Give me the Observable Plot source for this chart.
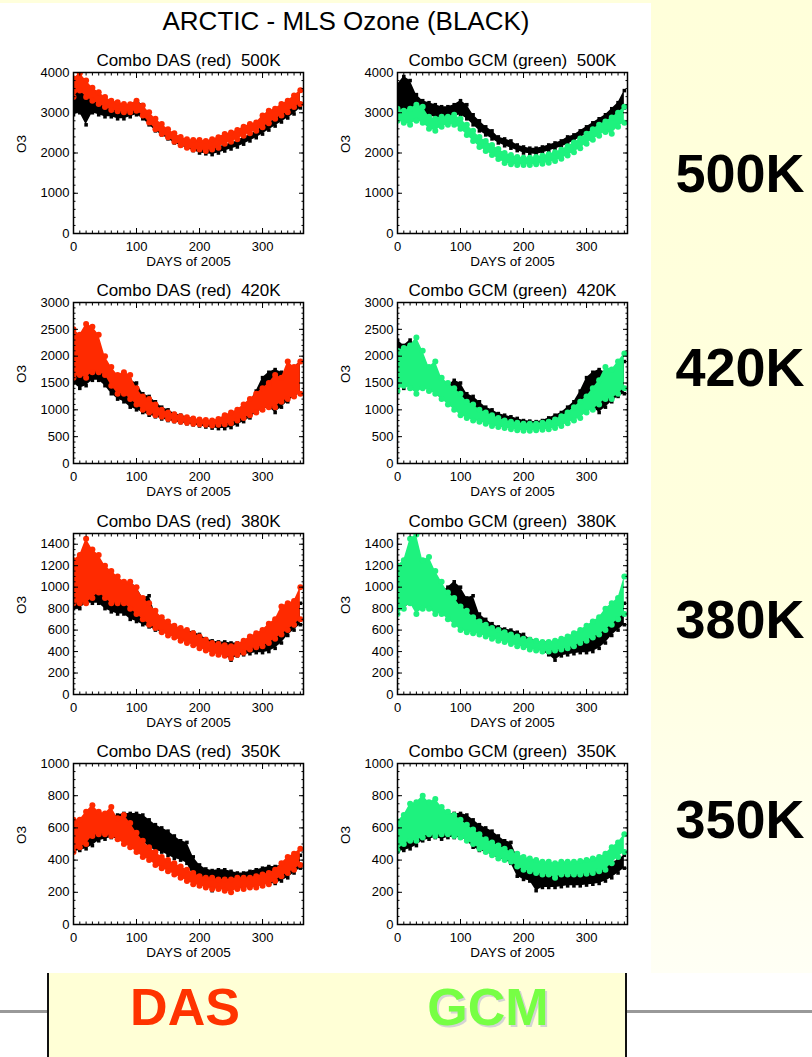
<!DOCTYPE html>
<html><head><meta charset="utf-8">
<script src="https://cdn.jsdelivr.net/npm/d3@7"></script>
<script src="https://cdn.jsdelivr.net/npm/@observablehq/plot@0.6"></script>
<style>
html,body{margin:0;padding:0;background:#fff;}
#page{position:relative;width:812px;height:1057px;overflow:hidden;background:#fff;font-family:"Liberation Sans",Arial,sans-serif;}
.abs{position:absolute;}
.lbl{position:absolute;line-height:1;white-space:pre;}
.pan{position:absolute;width:320px;}
svg text{white-space:pre;}
</style></head><body><div id="page">
<div class="abs" style="left:0;top:0;width:812px;height:3px;background:#FFFFDC"></div>
<div class="abs" style="left:651px;top:0;width:161px;height:973px;background:linear-gradient(#FFFFDA 0%,#FFFFDE 60%,#FFFFF5 100%)"></div>
<div class="abs" style="left:0;top:1010px;width:48px;height:3px;background:#999"></div>
<div class="abs" style="left:626px;top:1010px;width:186px;height:3px;background:#999"></div>
<div class="abs" style="left:47px;top:973px;width:576px;height:84px;background:#FFFFD6;border-left:2px solid #111;border-right:2px solid #111"></div>
</div>
<script>
// ---------- data ----------
const days = [0,10,20,30,40,50,60,70,80,90,100,110,120,130,140,150,160,170,180,190,200,210,220,230,240,250,260,270,280,290,300,310,320,330,340,350,360];
const levels = ["500K","420K","380K","350K"];
const yMaxes = [4000,3000,1500,1000];
const yTickLabels = [[0,1000,2000,3000,4000],[0,500,1000,1500,2000,2500,3000],[0,200,400,600,800,1000,1200,1400],[0,200,400,600,800,1000]];
const xTickLabels = [0,100,200,300];

// MLS (black)
const mls500Lo = [2950,3000,2700,3000,2950,2900,2900,2850,2850,2900,2950,2850,2700,2550,2450,2350,2250,2180,2120,2060,2000,1980,1960,2000,2050,2100,2150,2220,2300,2380,2470,2570,2670,2770,2870,2970,3120];
const mls500Hi = [3700,3900,3800,3450,3300,3250,3200,3150,3150,3200,3300,3200,2950,2800,2650,2550,2400,2350,2300,2200,2150,2120,2120,2150,2200,2250,2300,2400,2450,2550,2650,2750,2850,2950,3100,3250,3550];
const mls420Lo = [1500,1400,1450,1550,1550,1450,1300,1200,1150,1050,1000,950,900,870,830,800,780,760,740,720,700,680,660,650,650,670,720,780,850,950,1000,1050,950,1050,1150,1250,1300];
const mls420Hi = [2300,2200,2300,2200,1950,1800,1650,1500,1450,1550,1500,1300,1250,1150,1050,1000,930,900,870,840,800,790,780,800,850,900,950,1050,1150,1350,1600,1700,1750,1700,1700,1800,1900];
const mls380Lo = [800,800,850,850,850,800,770,750,750,700,680,650,630,600,580,560,540,520,500,480,460,440,420,400,370,320,360,370,380,390,390,400,430,480,550,600,650];
const mls380Hi = [1150,1200,1390,1200,1150,1100,1050,950,1000,1050,1000,900,920,750,700,660,630,610,600,580,560,520,500,490,490,480,480,480,500,520,560,600,650,700,750,780,850];
const mls350Lo = [450,460,470,490,520,530,540,530,540,540,540,520,480,460,450,430,410,400,380,300,280,270,210,230,230,230,235,240,240,240,245,250,255,270,290,320,350];
const mls350Hi = [600,560,580,620,650,650,670,680,690,690,690,680,650,620,600,580,550,520,510,420,370,345,335,340,340,330,320,320,330,340,350,360,360,370,385,400,430];

// Combo DAS (red)
const das500Lo = [3390,3550,3390,3300,3220,3140,3070,3040,3010,3010,3050,2930,2760,2590,2470,2390,2280,2190,2130,2090,2090,2050,2090,2130,2230,2280,2340,2430,2490,2550,2640,2740,2850,2930,3010,3140,3220];
const das500Hi = [3850,3980,3800,3620,3510,3390,3300,3260,3220,3210,3300,3180,3010,2850,2720,2590,2490,2400,2340,2320,2320,2300,2340,2390,2470,2510,2570,2650,2720,2760,2930,3050,3100,3220,3300,3430,3560];
const das420Lo = [1600,1650,1600,1700,1700,1650,1450,1300,1300,1200,1100,1000,950,900,870,830,800,780,760,740,730,720,710,720,730,750,800,850,900,950,1000,1050,1050,1150,1200,1250,1300];
const das420Hi = [2500,2400,2600,2550,2400,2000,1800,1650,1700,1650,1400,1250,1200,1100,1000,950,920,880,860,840,820,810,800,830,900,950,1000,1100,1200,1300,1400,1500,1650,1600,1900,1800,1900];
const das380Lo = [850,850,850,900,950,900,850,850,850,800,750,700,650,620,580,550,530,500,480,460,430,410,380,370,360,340,370,390,420,440,450,480,520,560,600,650,700];
const das380Hi = [1250,1300,1450,1350,1300,1200,1150,1100,1050,1050,1000,900,850,780,720,680,640,620,600,570,540,510,480,470,460,450,470,500,540,570,600,660,700,820,850,870,1000];
const das350Lo = [450,480,500,550,560,560,550,530,500,480,450,420,400,370,350,330,310,290,270,250,240,230,220,220,210,200,220,220,230,230,240,250,270,300,320,340,370];
const das350Hi = [650,650,700,740,700,690,730,660,680,630,570,520,480,450,420,400,380,360,340,320,300,290,290,280,280,280,290,290,290,300,310,320,340,380,420,440,470];

// Combo GCM (green)
const gcm500Lo = [2800,2750,2700,2800,2750,2600,2550,2650,2700,2700,2600,2450,2300,2150,2050,1950,1850,1750,1720,1700,1700,1700,1720,1730,1760,1800,1860,1940,2020,2120,2230,2330,2430,2520,2480,2650,2750];
const gcm500Hi = [3100,3050,3100,3200,3150,2900,2850,2900,2900,2950,2850,2700,2550,2400,2300,2200,2100,2000,1950,1900,1880,1880,1900,1930,1970,2020,2080,2170,2260,2360,2480,2590,2700,2780,2880,3000,3150];
const gcm420Lo = [1350,1450,1400,1300,1400,1350,1300,1200,1100,1000,900,850,800,780,740,700,680,660,640,620,610,610,620,630,640,660,700,750,800,850,950,1000,1100,1200,1200,1300,1400];
const gcm420Hi = [2100,2150,2200,2350,2100,1800,1900,1600,1500,1400,1300,1150,1100,1000,950,900,850,800,780,760,740,740,740,760,780,820,880,950,1050,1150,1250,1400,1550,1800,1750,1900,2050];
const gcm380Lo = [750,800,850,750,800,800,750,750,700,650,600,580,570,560,540,520,500,490,470,450,440,420,410,400,400,410,420,430,450,480,500,530,560,600,650,700,750];
const gcm380Hi = [1200,1250,1450,1490,1250,1280,1150,1050,950,900,820,780,720,680,650,620,600,580,560,540,520,510,500,490,490,500,520,540,570,600,640,680,720,800,850,900,1100];
const gcm350Lo = [460,500,520,520,540,560,550,560,560,550,540,520,500,470,450,430,410,400,390,360,340,330,320,310,310,290,310,310,310,310,315,320,330,340,380,420,450];
const gcm350Hi = [640,680,750,760,800,760,780,730,700,680,650,620,590,560,530,510,490,470,450,440,420,410,400,390,390,380,390,390,390,395,400,410,420,440,480,510,560];

// ---------- drawing ----------
const page = document.getElementById("page");
const mlsLo = [mls500Lo, mls420Lo, mls380Lo, mls350Lo];
const mlsHi = [mls500Hi, mls420Hi, mls380Hi, mls350Hi];
const models = [
  {name:"DAS", colorName:"red", color:"#FF2A00", lo:[das500Lo,das420Lo,das380Lo,das350Lo], hi:[das500Hi,das420Hi,das380Hi,das350Hi]},
  {name:"GCM", colorName:"green", color:"#1EF27E", lo:[gcm500Lo,gcm420Lo,gcm380Lo,gcm350Lo], hi:[gcm500Hi,gcm420Hi,gcm380Hi,gcm350Hi]}
];
const yMinorStep = [200,100,50,50];
const colX = [0, 324];
const rowY = [42, 272, 503, 733];

function panel(li, m) {
  const mls = days.map((d,i)=>({day:d, lo:mlsLo[li][i], hi:mlsHi[li][i]}));
  const mod = days.map((d,i)=>({day:d, lo:m.lo[li][i], hi:m.hi[li][i]}));
  const yMax = yMaxes[li];
  const xMinor = d3.range(0, 366, 10);
  const yMinor = d3.range(0, yMax + 1, yMinorStep[li]);
  const yMajor = yTickLabels[li];
  const blank = () => "";
  const title = `Combo ${m.name} (${m.colorName})  ${levels[li]}`;
  return Plot.plot({
    width: 320, height: 231,
    marginLeft: 73, marginRight: 17, marginTop: 30, marginBottom: 40,
    x: {domain: [0, 365]},
    y: {domain: [0, yMax]},
    style: {background: "none", fontFamily: "Liberation Sans, Arial, sans-serif", fontSize: "13.5px", color: "black", overflow: "visible"},
    marks: [
      Plot.areaY(mls, {x: "day", y1: "lo", y2: "hi", fill: "black", clip: true}),
      Plot.dot(mls, {x: "day", y: "lo", symbol: "square", r: 2, fill: "black", clip: true}),
      Plot.dot(mls, {x: "day", y: "hi", symbol: "square", r: 2, fill: "black", clip: true}),
      Plot.areaY(mod, {x: "day", y1: "lo", y2: "hi", fill: m.color, clip: true}),
      Plot.dot(mod, {x: "day", y: "lo", r: 3, fill: m.color, clip: true}),
      Plot.dot(mod, {x: "day", y: "hi", r: 3, fill: m.color, clip: true}),
      Plot.frame({stroke: "black", strokeWidth: 1.5}),
      Plot.axisX({ticks: xMinor, anchor: "bottom", tickSize: -2.5, tickFormat: blank, label: null}),
      Plot.axisX({ticks: xMinor, anchor: "top", tickSize: -2.5, tickFormat: blank, label: null}),
      Plot.axisX({ticks: xTickLabels, anchor: "bottom", tickSize: -5, tickFormat: blank, label: null}),
      Plot.axisX({ticks: xTickLabels, anchor: "top", tickSize: -5, tickFormat: blank, label: null}),
      Plot.axisY({ticks: yMinor, anchor: "left", tickSize: -2.5, tickFormat: blank, label: null}),
      Plot.axisY({ticks: yMinor, anchor: "right", tickSize: -2.5, tickFormat: blank, label: null}),
      Plot.axisY({ticks: yMajor, anchor: "left", tickSize: -5, tickFormat: blank, label: null}),
      Plot.axisY({ticks: yMajor, anchor: "right", tickSize: -5, tickFormat: blank, label: null}),
      Plot.axisX({ticks: xTickLabels, anchor: "bottom", tickSize: 0, tickPadding: 8, label: null, fontSize: 13, tickFormat: d => String(d)}),
      Plot.axisY({ticks: yMajor, anchor: "left", tickSize: 0, tickPadding: 4, label: null, fontSize: 13, tickFormat: d => String(d)}),
      Plot.text([title], {text: d => d, frameAnchor: "top", dy: -11.5, fontSize: 17, lineAnchor: "middle"}),
      Plot.text(["DAYS of 2005"], {text: d => d, frameAnchor: "bottom", dy: 28, fontSize: 13.5, lineAnchor: "middle"}),
      Plot.text(["O3"], {text: d => d, frameAnchor: "left", dx: -52, rotate: -90, fontSize: 13.5, lineAnchor: "middle"})
    ]
  });
}

levels.forEach((lev, li) => {
  models.forEach((m, mi) => {
    const div = document.createElement("div");
    div.className = "pan";
    div.style.left = colX[mi] + "px";
    div.style.top = rowY[li] + "px";
    div.appendChild(panel(li, m));
    page.appendChild(div);
  });
});

function label(text, left, top, width, css) {
  const d = document.createElement("div");
  d.className = "lbl";
  d.textContent = text;
  d.style.left = left + "px";
  d.style.top = top + "px";
  d.style.width = width + "px";
  d.style.textAlign = "center";
  d.style.cssText += css;
  page.appendChild(d);
}
label("ARCTIC - MLS Ozone (BLACK)", 146, 8, 400, "font-size:26px;color:#000;");
const sideTops = [146, 340, 592, 792];
levels.forEach((lev, li) => label(lev, 640, sideTops[li], 200, "font-size:54px;font-weight:bold;color:#000;"));
label("DAS", 85, 981, 200, "font-size:52px;font-weight:bold;color:#FF3300;");
label("GCM", 388, 981, 200, "font-size:52px;font-weight:bold;color:#77FF44;text-shadow:2px 2px 0 #D4D4D4;");
</script></body></html>
